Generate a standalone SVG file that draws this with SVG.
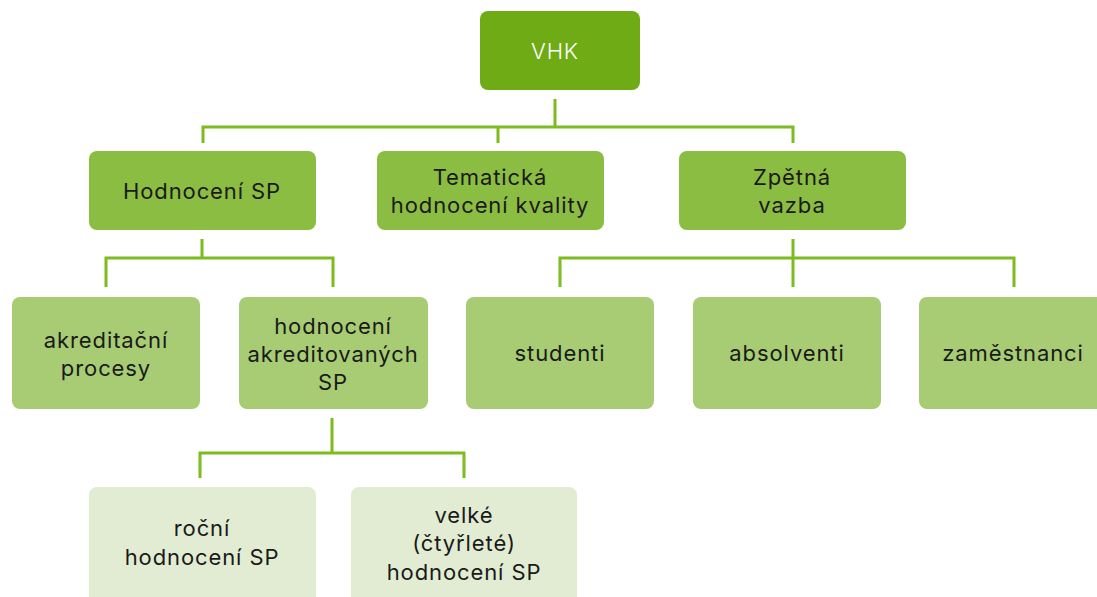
<svg xmlns="http://www.w3.org/2000/svg" width="1097" height="597" viewBox="0 0 1097 597">
<style>
text{font-family:Inter,"Liberation Sans",sans-serif;font-size:22px;letter-spacing:0.9px;fill:#1a1a1a;text-anchor:middle}
.l0{fill:#6EAB14}
.l1{fill:#8BBD42}
.l2{fill:#A8CC73}
.l3{fill:#E2ECD2}
.w{fill:#ffffff;font-weight:300}
.c{fill:none;stroke:#7DBB1E;stroke-width:3}
</style>
<rect width="1097" height="597" fill="#ffffff"/>
<g id="connectors">
<path class="c" d="M555 99V127M203 143V127H793V143M498 127V143"/>
<path class="c" d="M202 239V258M106 287V258H333V287"/>
<path class="c" d="M793 239V287M560 287V258H1014V287"/>
<path class="c" d="M332 418V453M200 478V453H464V478"/>
</g>
<g id="n-vhk"><rect class="l0" x="480" y="11" width="160" height="79" rx="8"/><text class="w" x="555" y="59">VHK</text></g>
<g id="n-hodnoceni"><rect class="l1" x="89" y="151" width="227" height="79" rx="8"/><text x="202" y="199">Hodnocení SP</text></g>
<g id="n-tematicka"><rect class="l1" x="377" y="151" width="227" height="79" rx="8"/><text x="490" y="185">Tematická</text><text x="490" y="213">hodnocení kvality</text></g>
<g id="n-zpetna"><rect class="l1" x="679" y="151" width="227" height="79" rx="8"/><text x="792" y="185">Zpětná</text><text x="792" y="213">vazba</text></g>
<g id="n-akreditacni"><rect class="l2" x="12" y="297" width="188" height="112" rx="8"/><text x="106" y="348">akreditační</text><text x="106" y="376">procesy</text></g>
<g id="n-hodnoceni-akr"><rect class="l2" x="239" y="297" width="189" height="112" rx="8"/><text x="333" y="334">hodnocení</text><text x="333" y="362">akreditovaných</text><text x="333" y="390">SP</text></g>
<g id="n-studenti"><rect class="l2" x="466" y="297" width="188" height="112" rx="8"/><text x="560" y="361">studenti</text></g>
<g id="n-absolventi"><rect class="l2" x="693" y="297" width="188" height="112" rx="8"/><text x="787" y="361">absolventi</text></g>
<g id="n-zamestnanci"><rect class="l2" x="919" y="297" width="188" height="112" rx="8"/><text x="1013" y="361">zaměstnanci</text></g>
<g id="n-rocni"><rect class="l3" x="89" y="487" width="227" height="120" rx="8"/><text x="202" y="536">roční</text><text x="202" y="565">hodnocení SP</text></g>
<g id="n-velke"><rect class="l3" x="351" y="487" width="226" height="120" rx="8"/><text x="464" y="523">velké</text><text x="464" y="551">(čtyřleté)</text><text x="464" y="580">hodnocení SP</text></g>
</svg>
